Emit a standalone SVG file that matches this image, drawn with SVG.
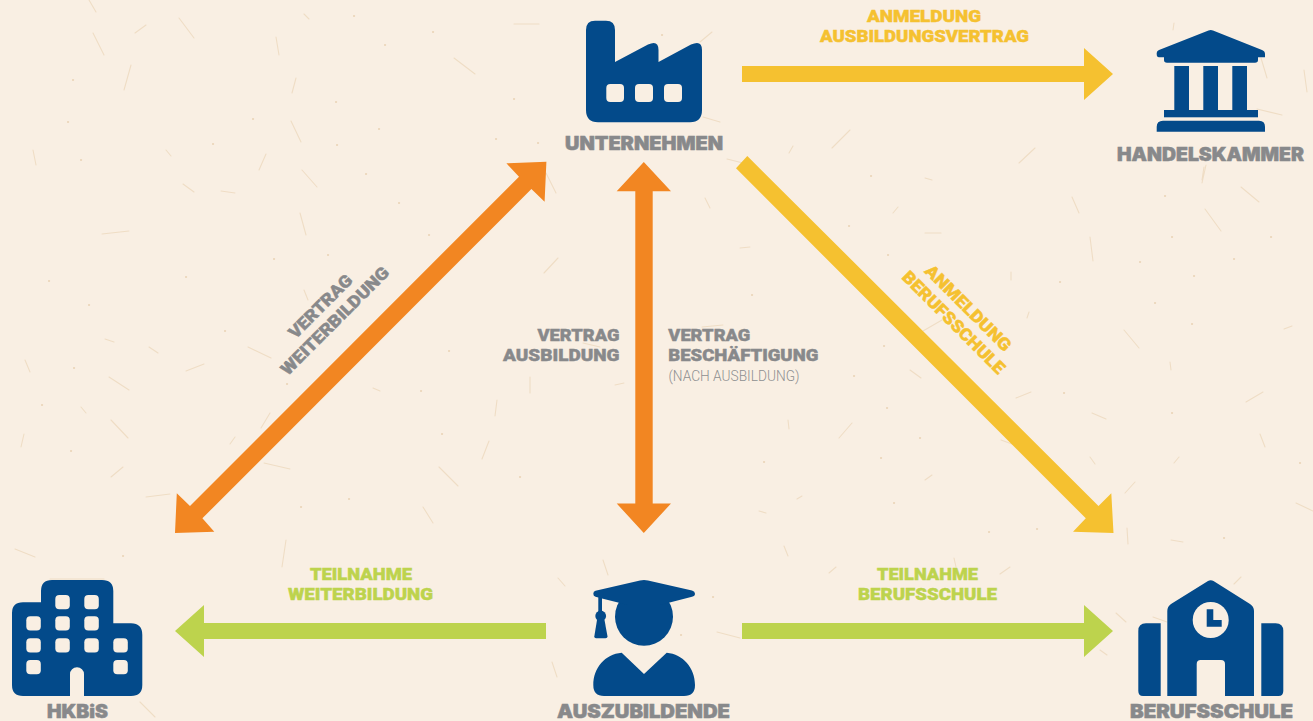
<svg xmlns="http://www.w3.org/2000/svg" width="1313" height="721" viewBox="0 0 1313 721">
<style>
.icon{fill:#034A8A}
.win{fill:#F9EFE3}
.name{font-family:"Inter","Liberation Sans",sans-serif;font-weight:900;font-size:18.5px;fill:#88898B;stroke:#88898B;stroke-width:.5px;text-anchor:middle}
.lab{font-family:"Roboto","Liberation Sans",sans-serif;font-weight:900;font-size:17px;stroke-width:.45px}
.gr{fill:#88898B;stroke:#88898B}.ye{fill:#F5C130;stroke:#F5C130}.lg{fill:#BDD34D;stroke:#BDD34D}
.or{fill:#F28622}.yl{fill:#F5C130}.ge{fill:#BDD34D}
.m{text-anchor:middle}
.fleck{fill:none;stroke:#EFDDC5;stroke-width:1.1;stroke-linecap:round}
.dot{fill:none;stroke:#EBD6BA;stroke-width:2.2;stroke-linecap:round}
</style>
<rect width="1313" height="721" fill="#F9EFE3"/>
<g id="background">
<path class="fleck" d="M89 0L96 12M179 18L194 38M135 33L146 25M93 33L104 55M276 37L279 55M131 65L124 90M296 78L292 93M454 58L475 74M514 24L539 24M291 121L301 142M266 154L259 170M302 170L317 187M183 184L194 192M221 191L235 193M33 150L36 165M300 213L306 235M102 234L129 231M558 258L544 273M166 150L171 156M546 173L556 193M304 14L309 19M304 290L308 300M248 347L271 358M204 364L186 371M109 377L129 390M25 360L30 372M111 420L128 438M24 434L21 447M123 467L111 477M270 413L261 428M264 463L290 469M146 497L170 494M15 549L35 557M286 540L282 567M439 467L458 486M489 441L482 459M423 507L433 523M497 400L495 416M530 377L530 393M149 347L158 353M105 339L114 342M81 407L86 413M235 437L230 444M373 388L380 391M50 579L104 579M850 130L832 148M1035 148L1019 163M925 178L932 180M925 233L941 233M898 207L893 213M1072 197L1079 213M1090 237L1093 261M1206 165L1202 183M1241 187L1259 202M1205 209L1221 231M1124 330L1139 348M942 320L923 331M910 370L921 378M1031 392L1016 398M1263 392L1246 402M1092 413L1106 419M740 248L750 247M1292 326L1284 329M1011 272L1011 280M1170 362L1171 370M1029 312L1027 318M793 146L789 153M852 423L839 438M788 420L789 429M932 475L925 480M802 496L797 499M759 511L766 513M784 546L788 556M836 567L829 573M1010 567L1000 574M954 558L956 567M1135 482L1125 493M1127 528L1128 544M1171 540L1183 542M1296 503L1313 511M1260 434L1265 447M1179 457L1174 463M1090 457L1095 464M1241 577L1234 584M1001 440L1012 444M712 32L700 42M703 117L720 122M1261 58L1267 78M1304 70L1307 92M1257 109L1282 115M1174 23L1173 30M1204 167L1202 180M603 560L608 575M558 578L565 586M552 662L557 677M717 632L740 638M1116 613L1126 622M1153 617L1167 622M1100 650L1107 655M140 702L155 717M705 198L710 208M727 159L743 163M702 327L723 325M615 385L624 383M583 343L600 347"/>
<path class="dot" d="M385 45h.1M433 32h.1M354 16h.1M73 80h.1M68 122h.1M81 160h.1M253 119h.1M213 144h.1M336 102h.1M379 129h.1M337 145h.1M496 139h.1M538 143h.1M514 99h.1M328 255h.1M274 259h.1M429 235h.1M399 203h.1M366 174h.1M49 281h.1M186 277h.1M74 368h.1M71 451h.1M225 331h.1M287 384h.1M301 507h.1M349 499h.1M449 351h.1M421 391h.1M442 434h.1M520 477h.1M123 556h.1M42 405h.1M89 305h.1M871 176h.1M849 226h.1M888 255h.1M884 346h.1M854 376h.1M1060 282h.1M1172 237h.1M1271 237h.1M1234 259h.1M1194 276h.1M1155 303h.1M1192 324h.1M1140 262h.1M1165 196h.1M1064 393h.1M1172 413h.1M752 295h.1M887 408h.1M764 462h.1M881 458h.1M920 438h.1M894 503h.1M1300 463h.1M1224 538h.1M989 532h.1M1037 529h.1M662 35h.1M681 635h.1M713 597h.1"/>
</g>
<g id="connectors">
<polygon id="c-unternehmen-handelskammer" class="yl" points="742,66 1084,66 1084,48 1113,74 1084,100 1084,82 742,82"/>
<polygon id="c-unternehmen-berufsschule" class="yl" points="747.3,156 1098.5,506 1111.3,493.3 1113.5,533 1073,531.7 1085.8,518.3 736,168.3"/>
<polygon id="c-unternehmen-auszubildende" class="or" points="643.8,162 671,191.3 652.7,191.3 652.7,503.5 671,503.5 643.8,533 616.7,503.5 635.3,503.5 635.3,191.3 616.7,191.3"/>
<polygon id="c-unternehmen-hkbis" class="or" points="546.4,161.7 544.6,201.7 531.4,189 202.4,518.3 214.3,531.7 175,533 176.8,493.2 190,506 519,176.7 506.4,163.3"/>
<polygon id="c-auszubildende-hkbis" class="ge" points="546,623 204,623 204,605 175,631 204,657 204,639 546,639"/>
<polygon id="c-auszubildende-berufsschule" class="ge" points="742,623 1084,623 1084,605 1113,631 1084,657 1084,639 742,639"/>
</g>
<g id="connector-labels">
<text class="lab ye m" x="924" y="21.5" textLength="114" lengthAdjust="spacingAndGlyphs">ANMELDUNG</text>
<text class="lab ye m" x="924.5" y="42" textLength="209" lengthAdjust="spacingAndGlyphs">AUSBILDUNGSVERTRAG</text>
<g transform="translate(949.5,326.5) rotate(45)">
<text class="lab ye m" x="0" y="-20.5" textLength="114" lengthAdjust="spacingAndGlyphs">ANMELDUNG</text>
<text class="lab ye m" x="0" y="0" textLength="137" lengthAdjust="spacingAndGlyphs">BERUFSSCHULE</text>
</g>
<g transform="translate(339,325) rotate(-45)">
<text class="lab gr m" x="0" y="-20.5" textLength="82" lengthAdjust="spacingAndGlyphs">VERTRAG</text>
<text class="lab gr m" x="0" y="0" textLength="145" lengthAdjust="spacingAndGlyphs">WEITERBILDUNG</text>
</g>
<text class="lab gr" x="537.5" y="340.7" textLength="82" lengthAdjust="spacingAndGlyphs">VERTRAG</text>
<text class="lab gr" x="503" y="361.3" textLength="116.5" lengthAdjust="spacingAndGlyphs">AUSBILDUNG</text>
<text class="lab gr" x="668.3" y="340.7" textLength="82" lengthAdjust="spacingAndGlyphs">VERTRAG</text>
<text class="lab gr" x="668.3" y="361.3" textLength="150" lengthAdjust="spacingAndGlyphs">BESCHÄFTIGUNG</text>
<text x="668.5" y="381" font-family="Roboto, Liberation Sans, sans-serif" font-weight="300" font-size="14" fill="#8E8F91" textLength="131" lengthAdjust="spacingAndGlyphs">(NACH AUSBILDUNG)</text>
<text class="lab lg m" x="361" y="579.5" textLength="102" lengthAdjust="spacingAndGlyphs">TEILNAHME</text>
<text class="lab lg m" x="360.5" y="600" textLength="145" lengthAdjust="spacingAndGlyphs">WEITERBILDUNG</text>
<text class="lab lg m" x="927.5" y="579.5" textLength="101" lengthAdjust="spacingAndGlyphs">TEILNAHME</text>
<text class="lab lg m" x="927.5" y="600" textLength="139" lengthAdjust="spacingAndGlyphs">BERUFSSCHULE</text>
</g>
<g id="unternehmen">
<path class="icon" d="M595 20.7H606Q615 20.7 615 30V62L648 44.5Q658.5 39.5 658.5 50V62L691 44.5Q702 39.5 702 50V110Q702 122.3 690 122.3H598Q586 122.3 586 110V30Q586 20.7 595 20.7Z"/>
<rect class="win" x="606.3" y="84" width="17.7" height="18" rx="4"/>
<rect class="win" x="635" y="84" width="18" height="18" rx="4"/>
<rect class="win" x="664" y="84" width="18" height="18" rx="4"/>
<text class="name" x="644" y="150" textLength="158" lengthAdjust="spacingAndGlyphs">UNTERNEHMEN</text>
</g>
<g id="handelskammer">
<path class="icon" d="M1208.5 30.5Q1210.7 29.7 1213 30.5L1262 50Q1265 51 1265 54V57.3H1258V60Q1258 62.7 1255 62.7H1167Q1164 62.7 1164 60V57.3H1159Q1156.7 57.3 1156.7 54V53Q1156.7 51 1159 50Z"/>
<rect class="icon" x="1174.3" y="66" width="14.7" height="45"/>
<rect class="icon" x="1203.3" y="66" width="14.7" height="45"/>
<rect class="icon" x="1232.3" y="66" width="14.7" height="45"/>
<rect class="icon" x="1164" y="110" width="94" height="7.3"/>
<path class="icon" d="M1163 120.7H1259Q1265 120.7 1265 127V131.7H1156.7V127Q1156.7 120.7 1163 120.7Z"/>
<text class="name" x="1210.5" y="160.5" textLength="187" lengthAdjust="spacingAndGlyphs">HANDELSKAMMER</text>
</g>
<g id="hkbis">
<path class="icon" d="M52 580H102Q113.3 580 113.3 591V623.3H131Q142.3 623.3 142.3 635V685Q142.3 696 131 696H84V674.3A7 7 0 0 0 70 674.3V696H23Q12 696 12 685V613Q12 602.3 23 602.3H41V591Q41 580 52 580Z"/>
<g class="win">
<rect x="55.3" y="595" width="14.5" height="14.3" rx="4"/><rect x="84.3" y="595" width="14.5" height="14.3" rx="4"/>
<rect x="26.3" y="616.3" width="14.5" height="14.3" rx="4"/><rect x="55.3" y="616.3" width="14.5" height="14.3" rx="4"/><rect x="84.3" y="616.3" width="14.5" height="14.3" rx="4"/>
<rect x="26.3" y="638.3" width="14.5" height="14.3" rx="4"/><rect x="55.3" y="638.3" width="14.5" height="14.3" rx="4"/><rect x="84.3" y="638.3" width="14.5" height="14.3" rx="4"/><rect x="113.3" y="638.3" width="14.5" height="14.3" rx="4"/>
<rect x="26.3" y="660" width="14.5" height="14.3" rx="4"/><rect x="113.3" y="660" width="14.5" height="14.3" rx="4"/>
</g>
<text class="name" x="77.5" y="718" textLength="61" lengthAdjust="spacingAndGlyphs">HKBiS</text>
</g>
<g id="auszubildende">
<circle class="icon" cx="644" cy="616.7" r="29"/>
<path class="icon" d="M640 580.5Q644 579.5 648 580.5L692 590.5Q695 591.5 695 593.7Q695 596 692 596.8L660 605H628L602 598.5V612H598.3V597.5L595.5 596.8Q593.3 596 593.3 593.7Q593.3 591.5 595.5 590.8Z"/>
<circle class="icon" cx="600.7" cy="616" r="5.4"/>
<path class="icon" d="M597 620H604.5L607.5 636.5Q607.5 638.3 605.5 638.3H596Q594.3 638.3 594.3 636.5Z"/>
<path class="icon" d="M621.7 652.7L644 674L666.7 652.7C683 654 695 668 695 685Q695 696 684 696H604Q593.3 696 593.3 685C593.3 668 605 654 621.7 652.7Z"/>
<text class="name" x="643.5" y="718" textLength="173" lengthAdjust="spacingAndGlyphs">AUSZUBILDENDE</text>
</g>
<g id="berufsschule">
<path class="icon" d="M1208 581Q1210.7 579.5 1213.5 581L1250 604Q1254 606.7 1254 611V696H1225V664Q1225 660 1221 660H1200.7Q1196.7 660 1196.7 664V696H1167.3V611Q1167.3 606.7 1171 604Z"/>
<circle class="win" cx="1210.7" cy="620" r="18"/>
<path class="icon" d="M1206.7 609.3H1213.3V620H1221.7V626.7H1206.7Z"/>
<path class="icon" d="M1146 623.3H1160.7V696H1143Q1138.3 696 1138.3 691V631Q1138.3 623.3 1146 623.3Z"/>
<path class="icon" d="M1261.3 623.3H1275.6Q1283.3 623.3 1283.3 631V691Q1283.3 696 1278.5 696H1261.3Z"/>
<text class="name" x="1211.5" y="718" textLength="163" lengthAdjust="spacingAndGlyphs">BERUFSSCHULE</text>
</g>
</svg>
